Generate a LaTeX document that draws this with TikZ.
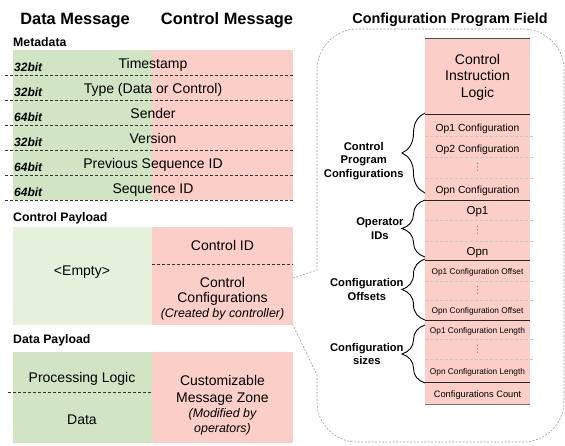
\documentclass[tikz,border=0pt]{standalone}
\usepackage{fontspec}
\setmainfont{Liberation Sans}
\newfontfamily\dotsfont{DejaVu Sans}
\usetikzlibrary{decorations.pathreplacing}
\definecolor{datagreen}{RGB}{209,228,196}
\definecolor{emptygreen}{RGB}{229,240,221}
\definecolor{ctrlred}{RGB}{252,206,200}
\tikzset{
  headtext/.style={font=\fontsize{16.4}{19}\selectfont\bfseries, inner sep=0pt, anchor=base},
  sectext/.style={font=\fontsize{12.3}{14}\selectfont\bfseries, inner sep=0pt, anchor=base west},
  fieldtext/.style={font=\fontsize{14}{16}\selectfont, inner sep=0pt, anchor=base},
  bittext/.style={font=\fontsize{12}{14}\selectfont\bfseries\itshape, inner sep=0pt, anchor=base west},
  notetext/.style={font=\fontsize{12.4}{15}\selectfont\itshape, inner sep=0pt, align=center},
  cfgtext/.style={font=\fontsize{10.3}{12}\selectfont, inner sep=0pt, anchor=base},
  optext/.style={font=\fontsize{11.5}{13}\selectfont, inner sep=0pt, anchor=base},
  smalltext/.style={font=\fontsize{8.3}{10}\selectfont, inner sep=0pt, anchor=base},
  dotstext/.style={font=\fontsize{10}{11}\selectfont\dotsfont, text=black!50, inner sep=0pt},
  rowline/.style={black!80, line width=0.7pt, dash pattern=on 3pt off 2pt},
  cellline/.style={black!22, line width=0.6pt, dash pattern=on 3pt off 2pt},
  edgeline/.style={black!85, line width=1pt},
  bracket/.style={decorate, decoration={brace, amplitude=23pt}, line width=0.9pt},
  bracelabel/.style={font=\fontsize{11.2}{13.5}\selectfont\bfseries, align=center, midway, anchor=east, xshift=-21pt, inner sep=0pt},
  callout/.style={black!40, line width=0.6pt, dash pattern=on 2pt off 1.5pt}
}
\begin{document}
\begin{tikzpicture}[x=1pt,y=-1pt]
\useasboundingbox (0,0) rectangle (565,445);

% headings
\node [headtext] (datahead) at (75,24) {Data Message};
\node [headtext] (ctrlhead) at (227,24) {Control Message};
\node [headtext, font=\fontsize{14.4}{17}\selectfont\bfseries] (cpfhead) at (450,23.5) {Configuration Program Field};

% metadata
\node [sectext] (metahead) at (13,46) {Metadata};
\fill [datagreen] (13,50) rectangle (152,200);
\fill [ctrlred] (152,50) rectangle (293,200);
\foreach \y in {75,100,125,150,175,200}
  \draw [rowline] (5,\y) -- (293,\y);
\node [fieldtext] (tstamp) at (153,68) {Timestamp};
\node [bittext] (tsbits) at (14,71) {32bit};
\node [fieldtext] (mtype) at (153,93) {Type (Data or Control)};
\node [bittext] (typebits) at (14,96) {32bit};
\node [fieldtext] (sender) at (153,118) {Sender};
\node [bittext] (senderbits) at (14,121) {64bit};
\node [fieldtext] (version) at (153,143) {Version};
\node [bittext] (versionbits) at (14,146) {32bit};
\node [fieldtext] (prevseq) at (153,168) {Previous Sequence ID};
\node [bittext] (prevseqbits) at (14,171) {64bit};
\node [fieldtext] (seqid) at (153,193) {Sequence ID};
\node [bittext] (seqidbits) at (14,196) {64bit};

% control payload
\node [sectext] (ctrlhead2) at (13,221) {Control Payload};
\fill [emptygreen] (13,227) rectangle (152,325);
\fill [ctrlred] (152,227) rectangle (293,325);
\draw [rowline] (152,264) -- (293,264);
\node [fieldtext] (empty) at (82,275) {<Empty>};
\node [fieldtext] (ctrlid) at (222.5,250) {Control ID};
\node [fieldtext, anchor=north, align=center, font=\fontsize{14}{15}\selectfont] (ctrlcfg) at (222.5,277) {Control\\Configurations};
\node [notetext, anchor=base] (ccnote) at (222.5,317) {(Created by controller)};

% data payload
\node [sectext] (datahead2) at (13,343) {Data Payload};
\fill [datagreen] (13,352) rectangle (152,443);
\fill [ctrlred] (152,352) rectangle (293,443);
\draw [rowline] (8,392) -- (152,392);
\node [fieldtext] (proclogic) at (82,382) {Processing Logic};
\node [fieldtext] (payload) at (82,424) {Data};
\node [fieldtext, anchor=north, align=center, font=\fontsize{14}{17}\selectfont] (custzone) at (222.5,375) {Customizable\\Message Zone};
\node [notetext, anchor=north] (mznote) at (222.5,408) {(Modified by\\operators)};

% configuration program field
\draw [callout] (293,278) -- (317,270) -- (317,70) .. controls (317,48) and (335,29) .. (357,29)
  -- (523,29) .. controls (545,29) and (564,47) .. (564,69) -- (564,402)
  .. controls (564,424) and (545,442) .. (523,442) -- (357,442)
  .. controls (335,442) and (317,424) .. (317,402) -- (317,375) -- (293,325);
\fill [ctrlred] (425,38) rectangle (530,404);
\foreach \y in {136,157,178,220,241,281,300,339,359}
  \draw [cellline] (425,\y) -- (533,\y);
\foreach \y in {114,200,260,320,382}
  \draw [edgeline] (425,\y) -- (530,\y);
\draw [edgeline, black!70] (425,38) -- (530,38);
\draw [edgeline, black!55] (425,404) -- (530,404);

\node [fieldtext, anchor=north, align=center, font=\fontsize{14}{16.5}\selectfont] (cilogic) at (477.5,54) {Control\\Instruction\\Logic};
\node [cfgtext] (op1cfg) at (477.5,131) {Op1 Configuration};
\node [cfgtext] (op2cfg) at (477.5,152) {Op2 Configuration};
\node [dotstext] (cfgdots) at (477.5,167.5) {⋮};
\node [cfgtext] (opncfg) at (477.5,193) {Opn Configuration};
\node [optext] (op1id) at (477.5,214) {Op1};
\node [dotstext] (iddots) at (477.5,230.5) {⋮};
\node [optext] (opnid) at (477.5,255) {Opn};
\node [smalltext] (op1off) at (477.5,274) {Op1 Configuration Offset};
\node [dotstext] (offdots) at (477.5,290.5) {⋮};
\node [smalltext] (opnoff) at (477.5,313) {Opn Configuration Offset};
\node [smalltext] (op1len) at (477.5,333) {Op1 Configuration Length};
\node [dotstext] (lendots) at (477.5,349) {⋮};
\node [smalltext] (opnlen) at (477.5,374) {Opn Configuration Length};
\node [cfgtext, font=\fontsize{9.3}{11}\selectfont] (cfgcount) at (477.5,397) {Configurations Count};

% braces
\draw [bracket] (425,193) -- (425,113) node [bracelabel, yshift=-8pt] (cpcfg) {Control\\Program\\Configurations};
\draw [bracket] (425,257) -- (425,200) node [bracelabel] (opids) {Operator\\IDs};
\draw [bracket] (425,320) -- (425,259) node [bracelabel] (cfgoff) {Configuration\\Offsets};
\draw [bracket] (425,383) -- (425,325) node [bracelabel] (cfgsize) {Configuration\\sizes};
\end{tikzpicture}
\end{document}
